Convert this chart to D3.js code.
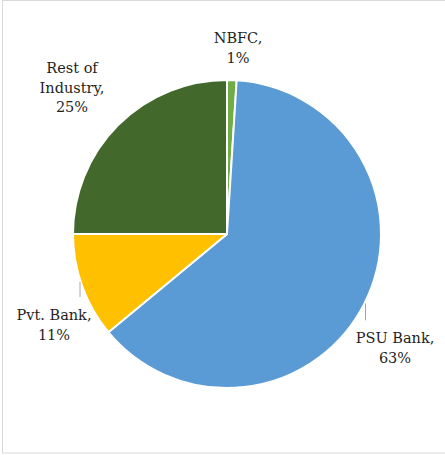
<!DOCTYPE html>
<html>
<head>
<meta charset="utf-8">
<script src="https://cdn.jsdelivr.net/npm/d3@7"></script>
<style>
  html, body { margin: 0; padding: 0; background: #fff; }
  svg { display: block; }
  .lbl { font-family: "DejaVu Serif", "Liberation Serif", serif; font-size: 14.5px; fill: #1f1f1f; }
</style>
</head>
<body>
<svg id="chart" width="445" height="455"></svg>
<script>
// Share of exposure by lender type (%)
const categories = ["NBFC", "PSU Bank", "Pvt. Bank", "Rest of Industry"];
const shares = [1, 63, 11, 25];
const colors = ["#70ad47", "#5b9bd5", "#ffc000", "#43682b"];

const svg = d3.select("#chart");
const cx = 227, cy = 234, r = 154;

// outer frame
svg.append("rect")
  .attr("x", 2.5).attr("y", 0.5)
  .attr("width", 460).attr("height", 452.5)
  .attr("fill", "none").attr("stroke", "#d9d9d9").attr("stroke-width", 1);

const pie = d3.pie().sort(null).value(d => d)(shares);
const arc = d3.arc().innerRadius(0).outerRadius(r);

const g = svg.append("g").attr("transform", `translate(${cx},${cy})`);

g.selectAll("path.slice")
  .data(pie)
  .join("path")
  .attr("class", "slice")
  .attr("d", arc)
  .attr("fill", (d, i) => colors[i])
  .attr("stroke", "#fff")
  .attr("stroke-width", 2)
  .attr("stroke-linejoin", "round");

// label block anchors (first baseline, horizontal centre)
const labelAt = [
  { x: 238, y: 43 },
  { x: 395, y: 343 },
  { x: 54, y: 320 },
  { x: 72, y: 73 }
];

const lineH = 19.5;
labelAt.forEach((L, i) => {
  const txt = (i === 3)
    ? ["Rest of", "Industry,", shares[i] + "%"]
    : [categories[i] + ",", shares[i] + "%"];
  const t = svg.append("text")
    .attr("class", "lbl")
    .attr("x", L.x).attr("y", L.y)
    .attr("text-anchor", "middle");
  txt.forEach((s, k) => {
    t.append("tspan").attr("x", L.x).attr("y", L.y + k * lineH).text(s);
  });
});

// short vertical leader lines from the pie rim down to the label
const leaders = [
  { x: 365.5, len: 17 },
  { x: 80, len: 15 }
];
leaders.forEach(ld => {
  const dx = ld.x - cx;
  const y0 = cy + Math.sqrt(r * r - dx * dx) + 2;
  svg.append("line")
    .attr("x1", ld.x).attr("x2", ld.x)
    .attr("y1", y0).attr("y2", y0 + ld.len)
    .attr("stroke", "#a6a6a6").attr("stroke-width", 1);
});
</script>
</body>
</html>
